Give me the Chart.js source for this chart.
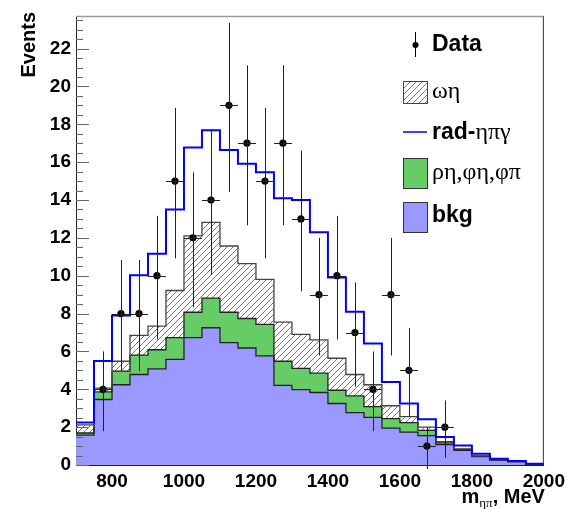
<!DOCTYPE html>
<html>
<head>
<meta charset="utf-8">
<script src="https://cdn.jsdelivr.net/npm/chart.js@4/dist/chart.umd.min.js"></script>
<style>
  html, body { margin: 0; padding: 0; background: #fff; }
  #wrap { width: 570px; height: 509px; }
</style>
</head>
<body>
<div id="wrap"><canvas id="c" width="570" height="509"></canvas></div>
<script>
// bin lower edges, 50 MeV wide, 700..2000
const binEdges = [700, 750, 800, 850, 900, 950, 1000, 1050, 1100, 1150, 1200, 1250, 1300,
  1350, 1400, 1450, 1500, 1550, 1600, 1650, 1700, 1750, 1800, 1850, 1900, 1950];
const binWidth = 50;

// stacked histogram tops
const bkgTop = [1.58, 3.46, 4.24, 4.78, 5.08, 5.58, 6.73, 7.25, 6.47, 6.18, 5.76, 4.21, 3.98,
  3.83, 3.25, 2.77, 2.52, 1.95, 1.74, 1.55, 1.08, 0.78, 0.45, 0.26, 0.18, 0.05];
const rhoTop = [1.69, 3.86, 4.96, 5.81, 6.09, 6.73, 8.07, 8.82, 8.07, 7.74, 7.43, 5.48, 5.11,
  4.85, 3.95, 3.65, 3.08, 2.45, 2.24, 1.83, 1.17, 0.82, 0.47, 0.27, 0.18, 0.05];
const omegaTop = [2.12, 4.06, 5.48, 6.85, 7.34, 9.22, 12.1, 12.82, 11.57, 10.64, 9.81, 7.55, 6.9,
  6.61, 5.64, 4.78, 4.24, 3.13, 2.56, 2.0, 1.24, 0.85, 0.48, 0.28, 0.19, 0.05];
const radLine = [2.25, 5.5, 7.9, 10.03, 11.16, 13.5, 16.77, 17.69, 16.64, 15.91, 15.46, 14.09, 14.0,
  12.3, 9.91, 8.09, 6.42, 4.38, 3.25, 2.42, 1.48, 1.03, 0.59, 0.33, 0.21, 0.07];

// data points (bin centres), counts and errors
const dataX = [775, 825, 875, 925, 975, 1025, 1075, 1125, 1175, 1225, 1275, 1325, 1375,
  1425, 1475, 1525, 1575, 1625, 1675, 1725];
const dataY = [4, 8, 8, 10, 15, 12, 14, 19, 17, 15, 17, 13, 9, 10, 7, 4, 9, 5, 1, 2];
const dataErr = [2, 2.83, 2.83, 3.16, 3.87, 3.46, 3.74, 4.36, 4.12, 3.87, 4.12, 3.61, 3,
  3.16, 2.65, 2, 3, 2.24, 1, 1.41];

const xTicks = [800, 1000, 1200, 1400, 1600, 1800, 2000];
const yTicks = [0, 2, 4, 6, 8, 10, 12, 14, 16, 18, 20, 22];

const sans = '"Liberation Sans", Arial, sans-serif';
const serif = '"Liberation Serif", "DejaVu Serif", serif';

function steps(vals) {
  const pts = vals.map((v, i) => ({ x: binEdges[i], y: v }));
  pts.push({ x: binEdges[binEdges.length - 1] + binWidth, y: vals[vals.length - 1] });
  return pts;
}

function makeHatch() {
  const t = document.createElement('canvas');
  t.width = 6; t.height = 6;
  const g = t.getContext('2d');
  g.strokeStyle = '#555';
  g.lineWidth = 0.8;
  g.beginPath();
  g.moveTo(-1, 7); g.lineTo(7, -1);
  g.moveTo(-4, 4); g.lineTo(4, -4);
  g.moveTo(2, 10); g.lineTo(10, 2);
  g.stroke();
  return g.createPattern(t, 'repeat');
}
const hatch = makeHatch();

const purple = 'rgb(153,153,255)';
const green = 'rgb(102,204,102)';
const outline = '#222';

// error bars, axis ticks, frame, titles and legend
const decor = {
  id: 'decor',
  afterDatasetsDraw(chart) {
    const ctx = chart.ctx;
    const xs = chart.scales.x, ys = chart.scales.y;
    ctx.save();
    ctx.strokeStyle = '#222';
    ctx.lineWidth = 1;
    dataX.forEach((x, i) => {
      const px = Math.round(xs.getPixelForValue(x)) + 0.5;
      const py = Math.round(ys.getPixelForValue(dataY[i])) + 0.5;
      ctx.beginPath();
      ctx.moveTo(px, ys.getPixelForValue(dataY[i] + dataErr[i]));
      ctx.lineTo(px, ys.getPixelForValue(Math.max(dataY[i] - dataErr[i], 0)) + 4);
      ctx.moveTo(xs.getPixelForValue(x - binWidth / 2), py);
      ctx.lineTo(xs.getPixelForValue(x + binWidth / 2), py);
      ctx.stroke();
    });
    ctx.restore();
  },
  afterDraw(chart) {
    const ctx = chart.ctx;
    const xs = chart.scales.x, ys = chart.scales.y;
    const a = chart.chartArea;
    ctx.save();
    // frame
    ctx.strokeStyle = '#999';
    ctx.lineWidth = 1.5;
    ctx.beginPath();
    ctx.moveTo(a.left, a.top); ctx.lineTo(a.right, a.top);
    ctx.stroke();
    ctx.strokeStyle = '#333';
    ctx.lineWidth = 1;
    ctx.beginPath();
    ctx.moveTo(a.right - 0.5, a.top); ctx.lineTo(a.right - 0.5, a.bottom);
    ctx.stroke();
    // inward y ticks
    ctx.strokeStyle = '#666';
    ctx.beginPath();
    for (let v = 0; v <= ys.max; v += 0.5) {
      const py = Math.round(ys.getPixelForValue(v)) + 0.5;
      const len = (v % 2 === 0) ? 13 : 7;
      ctx.moveTo(a.left, py); ctx.lineTo(a.left + len, py);
    }
    ctx.stroke();
    // y title
    ctx.fillStyle = '#000';
    ctx.font = 'bold 20px ' + sans;
    ctx.translate(29, 12);
    ctx.rotate(-Math.PI / 2);
    ctx.textAlign = 'right';
    ctx.textBaseline = 'middle';
    ctx.fillText('Events', 0, 0);
    ctx.restore();

    // x title m_ηπ, MeV
    ctx.save();
    ctx.fillStyle = '#000';
    ctx.textBaseline = 'alphabetic';
    const base = 503;
    ctx.font = 'bold 20px ' + sans;
    const tail = ', MeV';
    const wTail = ctx.measureText(tail).width;
    const wM = ctx.measureText('m').width;
    ctx.font = '13px ' + serif;
    const wSub = ctx.measureText('ηπ').width;
    let x = a.right + 1 - wTail - wSub - wM;
    ctx.font = 'bold 20px ' + sans;
    ctx.fillText('m', x, base);
    x += wM;
    ctx.font = '13px ' + serif;
    ctx.fillText('ηπ', x, base + 4);
    x += wSub;
    ctx.font = 'bold 20px ' + sans;
    ctx.fillText(tail, x, base);

    // legend
    const bx = 403, bw = 24, tx = 432;
    ctx.textBaseline = 'middle';
    // Data
    ctx.strokeStyle = '#000';
    ctx.beginPath();
    ctx.moveTo(415.5, 32); ctx.lineTo(415.5, 57);
    ctx.stroke();
    ctx.beginPath();
    ctx.arc(415.5, 45, 3, 0, Math.PI * 2);
    ctx.fill();
    ctx.font = 'bold 23px ' + sans;
    ctx.fillText('Data', tx, 45);
    // ωη
    ctx.fillStyle = '#fff';
    ctx.fillRect(bx, 81, bw, 22);
    ctx.fillStyle = hatch;
    ctx.fillRect(bx, 81, bw, 22);
    ctx.strokeStyle = '#444';
    ctx.strokeRect(bx + 0.5, 81.5, bw, 22);
    ctx.fillStyle = '#000';
    ctx.font = '24px ' + serif;
    ctx.fillText('ωη', tx, 92);
    // rad-ηπγ
    ctx.strokeStyle = '#0000ff';
    ctx.lineWidth = 1.5;
    ctx.beginPath();
    ctx.moveTo(bx, 132); ctx.lineTo(bx + bw, 132);
    ctx.stroke();
    ctx.font = 'bold 23px ' + sans;
    ctx.fillText('rad-', tx, 133);
    const wr = ctx.measureText('rad-').width;
    ctx.font = '24px ' + serif;
    ctx.fillText('ηπγ', tx + wr, 133);
    // ρη,φη,φπ
    ctx.lineWidth = 1;
    ctx.fillStyle = green;
    ctx.fillRect(bx, 158, bw, 30);
    ctx.strokeStyle = '#333';
    ctx.strokeRect(bx + 0.5, 158.5, bw, 30);
    ctx.fillStyle = '#000';
    ctx.font = '24px ' + serif;
    ctx.fillText('ρη,φη,φπ', tx, 173);
    // bkg
    ctx.fillStyle = purple;
    ctx.fillRect(bx, 202, bw, 30);
    ctx.strokeRect(bx + 0.5, 202.5, bw, 30);
    ctx.fillStyle = '#000';
    ctx.font = 'bold 23px ' + sans;
    ctx.fillText('bkg', tx, 216);
    ctx.restore();
  }
};

const histLine = (label, vals, color, width, bg, fill, order) => ({
  label: label,
  data: steps(vals),
  stepped: 'before',
  borderColor: color,
  borderWidth: width,
  backgroundColor: bg,
  fill: fill,
  pointRadius: 0,
  order: order
});

new Chart(document.getElementById('c'), {
  type: 'line',
  data: {
    datasets: [
      histLine('bkg', bkgTop, outline, 1.3, purple, 'origin', 5),
      histLine('ρη,φη,φπ', rhoTop, outline, 1.3, green, '-1', 4),
      histLine('ωη', omegaTop, '#444', 1.3, hatch, '-1', 3),
      histLine('rad-ηπγ', radLine, '#0000ff', 2, 'transparent', false, 2),
      {
        label: 'Data',
        data: dataX.map((x, i) => ({ x: x, y: dataY[i] })),
        showLine: false,
        pointRadius: 3.6,
        pointBackgroundColor: '#000',
        pointBorderColor: '#000',
        pointBorderWidth: 0,
        order: 1
      }
    ]
  },
  options: {
    responsive: false,
    animation: false,
    layout: { padding: { top: 11, right: 25, left: 0, bottom: 0 } },
    plugins: {
      legend: { display: false },
      tooltip: { enabled: false },
      filler: { drawTime: 'beforeDatasetsDraw' }
    },
    scales: {
      x: {
        type: 'linear',
        min: 700,
        max: 2000,
        afterFit: s => { s.height = 44; },
        afterBuildTicks: s => { s.ticks = xTicks.map(v => ({ value: v })); },
        grid: { drawOnChartArea: false, drawTicks: false },
        border: { display: true, color: '#222', width: 1 },
        ticks: {
          padding: 5,
          maxRotation: 0,
          color: '#000',
          callback: v => String(v),
          font: { family: sans, size: 19, weight: 'bold' }
        }
      },
      y: {
        min: 0,
        max: 23.7,
        afterFit: s => { s.width = 76; },
        afterBuildTicks: s => { s.ticks = yTicks.map(v => ({ value: v })); },
        grid: { drawOnChartArea: false, drawTicks: false },
        border: { display: true, color: '#222', width: 1 },
        ticks: {
          padding: 5,
          color: '#000',
          callback: v => String(v),
          font: { family: sans, size: 19, weight: 'bold' }
        }
      }
    }
  },
  plugins: [decor]
});
</script>
</body>
</html>
